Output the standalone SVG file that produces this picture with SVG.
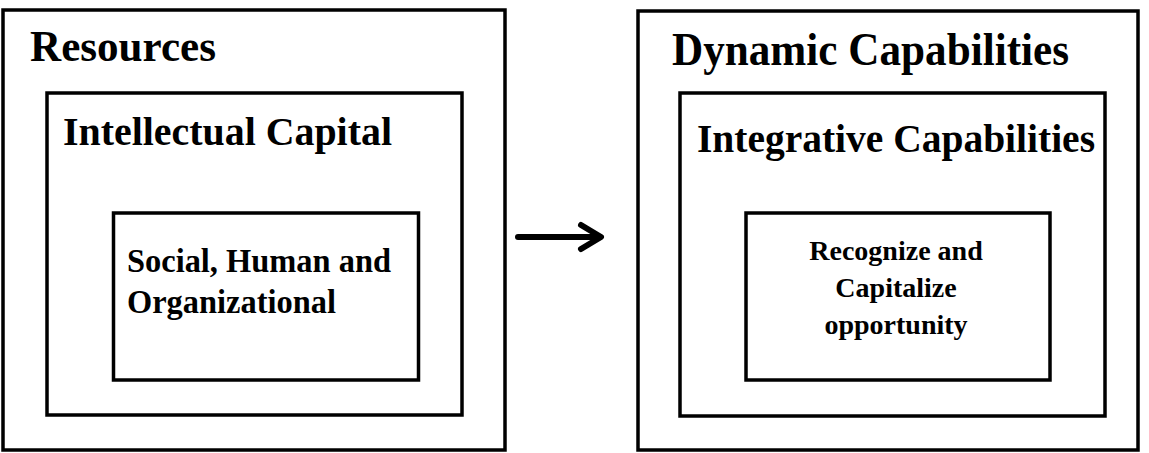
<svg xmlns="http://www.w3.org/2000/svg" width="1149" height="453" viewBox="0 0 1149 453">
<style>
  .box { fill: none; stroke: #000; stroke-width: 3.5; }
  .t { font-family: "Liberation Serif", "Times New Roman", serif; font-weight: bold; fill: #000; }
  .conn { fill: none; stroke: #000; stroke-width: 6; stroke-linecap: round; stroke-linejoin: round; }
</style>
<rect x="0" y="0" width="1149" height="453" fill="#fff"/>
<g id="resources">
  <rect class="box" x="3" y="10" width="502" height="440"/>
  <text class="t" x="30" y="61" font-size="44" textLength="186" lengthAdjust="spacingAndGlyphs">Resources</text>
</g>
<g id="intellectual-capital">
  <rect class="box" x="47" y="93" width="415" height="322"/>
  <text class="t" x="63" y="145" font-size="40" textLength="329" lengthAdjust="spacingAndGlyphs">Intellectual Capital</text>
</g>
<g id="social-human-organizational">
  <rect class="box" x="113.5" y="213" width="305" height="167"/>
  <text class="t" x="127" y="272" font-size="34" textLength="264" lengthAdjust="spacingAndGlyphs">Social, Human and</text>
  <text class="t" x="127" y="313" font-size="34" textLength="209" lengthAdjust="spacingAndGlyphs">Organizational</text>
</g>
<g id="dynamic-capabilities">
  <rect class="box" x="638" y="11" width="500" height="439"/>
  <text class="t" x="672" y="65" font-size="46" textLength="397" lengthAdjust="spacingAndGlyphs">Dynamic Capabilities</text>
</g>
<g id="integrative-capabilities">
  <rect class="box" x="680" y="93" width="425" height="323"/>
  <text class="t" x="697" y="152" font-size="40" textLength="398" lengthAdjust="spacingAndGlyphs">Integrative Capabilities</text>
</g>
<g id="recognize-capitalize">
  <rect class="box" x="746" y="213" width="304" height="167"/>
  <text class="t" x="896" y="260" font-size="28" text-anchor="middle">Recognize and</text>
  <text class="t" x="896" y="297" font-size="28" text-anchor="middle">Capitalize</text>
  <text class="t" x="896" y="334" font-size="28" text-anchor="middle">opportunity</text>
</g>
<g id="connectors">
  <path class="conn" d="M518 237 H599"/>
  <path class="conn" d="M581 225 L601 237 L581 249"/>
</g>
</svg>
